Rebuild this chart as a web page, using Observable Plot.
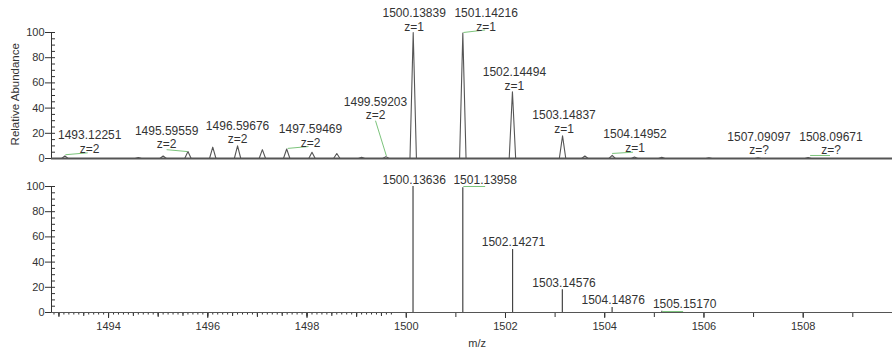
<!DOCTYPE html>
<html>
<head>
<meta charset="utf-8">
<script src="https://cdn.jsdelivr.net/npm/d3@7"></script>
<script src="https://cdn.jsdelivr.net/npm/@observablehq/plot@0.6"></script>
<style>
  body { margin: 0; background: #fff; }
  #chart svg { display: block; overflow: visible; }
</style>
</head>
<body>
<div id="chart"></div>
<script>
// ---------- data ----------
// m/z domain of both panels
const mzDomain = [1492.85, 1509.8];

// top panel: profile spectrum peaks (centroid m/z, relative abundance)
const profileMz    = [1493.12, 1494.60, 1495.10, 1495.60, 1496.10, 1496.60, 1497.10, 1497.59, 1498.10, 1498.60, 1499.10, 1499.59, 1500.14, 1501.14, 1502.14, 1503.15, 1503.60, 1504.15, 1504.60, 1505.15, 1506.10, 1507.09, 1508.10];
const profileAbund = [2, 0.8, 2, 5.5, 9, 10, 7, 7.5, 5, 4, 1, 1.5, 100, 99.5, 53, 18, 2, 2.5, 1.2, 1, 0.5, 0.6, 0.8];

// top panel annotations
const topLabelText = ["1493.12251", "1495.59559", "1496.59676", "1497.59469", "1499.59203", "1500.13839", "1501.14216", "1502.14494", "1503.14837", "1504.14952", "1507.09097", "1508.09671"];
const topLabelCharge = ["z=2", "z=2", "z=2", "z=2", "z=2", "z=1", "z=1", "z=1", "z=1", "z=1", "z=?", "z=?"];
const topLabelAtMz = [1493.62, 1495.17, 1496.60, 1498.07, 1499.38, 1500.16, 1501.61, 1502.18, 1503.18, 1504.61, 1507.11, 1508.56];
const topLabelAtY  = [13.5, 17, 21, 18, 40, 110, 110, 63.5, 29, 14, 12.3, 12.3];

// top panel green leader lines
const topLeadMz1 = [1493.13, 1495.17, 1497.61, 1499.38, 1501.15, 1504.15, 1508.14];
const topLeadY1  = [3.0, 7.0, 8.0, 30, 100, 4.0, 2.4];
const topLeadMz2 = [1493.58, 1495.59, 1498.03, 1499.60, 1501.59, 1504.57, 1508.54];
const topLeadY2  = [4.5, 5.5, 9.5, 2.0, 102, 5.0, 2.4];

// bottom panel: centroid sticks
const stickMz    = [1500.13636, 1501.13958, 1502.14271, 1503.14576, 1504.14876, 1505.15170];
const stickAbund = [100, 99, 50, 18, 4, 1];
const bottomLabelText = ["1500.13636", "1501.13958", "1502.14271", "1503.14576", "1504.14876", "1505.15170"];
const bottomLabelAtMz = [1500.16, 1501.59, 1502.16, 1503.18, 1504.17, 1505.61];
const bottomLabelAtY  = [104.8, 104.8, 55.6, 23, 9.5, 6.3];

// bottom panel green leader lines
const botLeadMz1 = [1501.15, 1505.16];
const botLeadY1  = [100, 0.8];
const botLeadMz2 = [1501.59, 1505.58];
const botLeadY2  = [100, 0.8];

const yMajorTicks = [0, 20, 40, 60, 80, 100];
const yMinorTicks = d3.range(0, 101, 5);
const xMajorTicks = [1494, 1496, 1498, 1500, 1502, 1504, 1506, 1508];

// ---------- build tables ----------
const halfWidth = 0.065;
const profile = [{mz: mzDomain[0], a: 0}];
profileMz.forEach((m, i) => {
  profile.push({mz: m - halfWidth, a: 0}, {mz: m, a: profileAbund[i]}, {mz: m + halfWidth, a: 0});
});
profile.push({mz: mzDomain[1], a: 0});

const topLabels = topLabelText.map((t, i) => ({x: topLabelAtMz[i], y: topLabelAtY[i], text: t + "\n" + topLabelCharge[i]}));
const topLeads = topLeadMz1.map((m, i) => ({x1: m, y1: topLeadY1[i], x2: topLeadMz2[i], y2: topLeadY2[i]}));
const sticks = stickMz.map((m, i) => ({mz: m, a: stickAbund[i]}));
const bottomLabels = bottomLabelText.map((t, i) => ({x: bottomLabelAtMz[i], y: bottomLabelAtY[i], text: t}));
const botLeads = botLeadMz1.map((m, i) => ({x1: m, y1: botLeadY1[i], x2: botLeadMz2[i], y2: botLeadY2[i]}));

const W = 892, ML = 51, MR = 0;
const FONT = "'Liberation Sans', Arial, Helvetica, sans-serif";
const ink = "#333";
const green = "#7cc47c";

function yAxisMarks() {
  return [
    Plot.axisY(yMajorTicks, {anchor: "left", tickSize: 6, tickPadding: 1, fontSize: 11, fill: ink, stroke: ink, tickFormat: d => d}),
    Plot.tickY(yMinorTicks, {y: d => d, insetRight: W - ML - MR - 4, stroke: ink}),
    Plot.ruleX([mzDomain[0]], {y1: 0, y2: 100, stroke: ink})
  ];
}

// ---------- top panel ----------
const topPlot = Plot.plot({
  width: W, height: 170,
  marginLeft: ML, marginRight: MR, marginTop: 32, marginBottom: 12,
  x: {domain: mzDomain, axis: null},
  y: {domain: [0, 100], axis: null},
  style: {fontFamily: FONT, fontSize: "11px", color: ink, background: "#fff"},
  marks: [
    ...yAxisMarks(),
    Plot.line(profile, {x: "mz", y: "a", stroke: "#555", strokeWidth: 1.1}),
    Plot.ruleY([0], {stroke: "#555", strokeWidth: 2}),
    Plot.link(topLeads, {x1: "x1", y1: "y1", x2: "x2", y2: "y2", stroke: green, strokeWidth: 1}),
    Plot.text(topLabels, {x: "x", y: "y", text: "text", fill: ink, fontSize: 12, lineHeight: 1.15}),
    Plot.text(["Relative Abundance"], {frameAnchor: "left", y: () => 51, dx: -36, rotate: -90, textAnchor: "middle", fill: ink, fontSize: 11.5})
  ]
});

// ---------- bottom panel ----------
const bottomPlot = Plot.plot({
  width: W, height: 188,
  marginLeft: ML, marginRight: MR, marginTop: 16, marginBottom: 46,
  x: {domain: mzDomain, axis: null},
  y: {domain: [0, 100], axis: null},
  style: {fontFamily: FONT, fontSize: "11px", color: ink, background: "#fff"},
  marks: [
    ...yAxisMarks(),
    Plot.axisX(d3.range(14929, 14998).map(d => d / 10), {anchor: "bottom", tickSize: 2.5, tickFormat: () => "", stroke: ink}),
    Plot.axisX(d3.range(29860, 29996).map(d => d / 20).filter(d => Math.abs(d * 2 - Math.round(d * 2)) < 1e-9), {anchor: "bottom", tickSize: 4, tickFormat: () => "", stroke: ink}),
    Plot.axisX(d3.range(1493, 1510), {anchor: "bottom", tickSize: 5, tickFormat: () => "", stroke: ink}),
    Plot.axisX(xMajorTicks, {anchor: "bottom", tickSize: 6, tickPadding: 4, fontSize: 11, fill: ink, stroke: ink, tickFormat: d => String(d)}),
    Plot.ruleY([0], {stroke: "#555", strokeWidth: 1}),
    Plot.ruleX(sticks, {x: "mz", y1: 0, y2: "a", stroke: "#444", strokeWidth: 1.2}),
    Plot.link(botLeads, {x1: "x1", y1: "y1", x2: "x2", y2: "y2", stroke: green, strokeWidth: 1}),
    Plot.text(bottomLabels, {x: "x", y: "y", text: "text", fill: ink, fontSize: 12}),
    Plot.text(["m/z"], {x: () => 1501.43, y: () => 0, dy: 31, fill: ink, fontSize: 11})
  ]
});

const chart = document.getElementById("chart");
chart.appendChild(topPlot);
chart.appendChild(bottomPlot);
</script>
</body>
</html>
